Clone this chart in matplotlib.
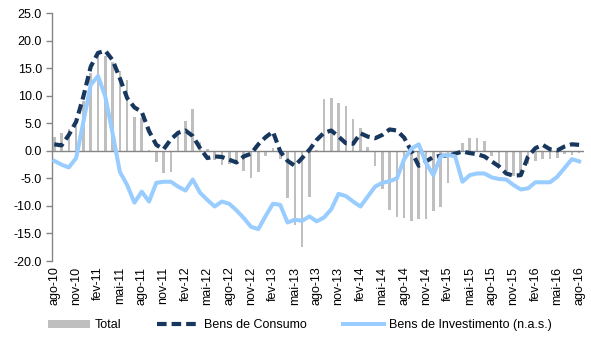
import matplotlib
matplotlib.use("Agg")
import matplotlib.pyplot as plt
from matplotlib.patches import Patch
from matplotlib.lines import Line2D

plt.rcParams['font.family'] = ['Liberation Sans', 'DejaVu Sans']

# Monthly series, ago-10 .. ago-16 (year-on-year % change)
total = [2.6, 3.2, 3.9, 4.5, 9.0, 14.2, 17.2, 17.2, 16.2, 14.5,
         12.9, 6.2, 5.9, 0.2, -2.1, -4.1, -3.9, 3.2, 5.5, 7.6,
         1.7, 0.3, -1.7, -2.6, -2.3, -2.2, -3.6, -5.0, -3.8, -0.9,
         0.5, -1.5, -8.6, -13.5, -17.5, -8.4, 0.2, 9.4, 9.6, 8.7,
         8.2, 5.8, 4.1, 0.7, -2.7, -7.0, -10.8, -12.0, -12.2, -12.7,
         -12.3, -12.4, -11.0, -10.1, -5.9, -0.8, 1.4, 2.3, 2.3, 1.8,
         -0.9, -2.8, -3.7, -4.5, -4.5, -2.4, -1.8, -1.5, -1.4, -1.2,
         -0.6, -0.7, -0.3]

consumo = [1.2, 1.0, 2.9, 5.3, 9.9, 15.3, 17.8, 18.2, 16.5, 13.2,
           9.6, 7.9, 7.1, 3.6, 1.1, 0.3, 2.1, 3.3, 3.7, 2.7,
           0.5, -1.3, -1.0, -1.1, -1.6, -2.1, -1.0, -0.5, 1.2, 2.5,
           3.5, -0.1, -1.8, -2.7, -1.3, 0.2, 2.0, 3.3, 3.7, 2.6,
           1.4, 1.3, 3.2, 2.6, 2.3, 2.9, 3.9, 3.7, 2.4, -0.1,
           -2.7, -1.9, -1.1, -0.9, -0.9, -0.5, -0.1, -0.4, -0.6, -1.0,
           -1.9, -2.8, -4.1, -4.5, -4.4, -1.0, 0.5, 1.1, 0.3, 0.1,
           0.8, 1.2, 1.1]

investimento = [-1.8, -2.5, -3.0, -1.3, 5.3, 12.0, 13.6, 9.9, 3.2, -3.8,
                -6.2, -9.4, -7.4, -9.2, -5.8, -5.6, -5.6, -6.5, -7.2, -5.2,
                -7.6, -8.9, -10.1, -9.2, -9.6, -10.8, -12.2, -13.8, -14.2, -11.8,
                -9.6, -9.8, -13.0, -12.5, -12.7, -11.9, -12.8, -12.1, -10.6, -7.8,
                -8.2, -9.2, -10.1, -8.3, -6.5, -5.8, -5.5, -5.0, -1.5, 0.4,
                1.2, -2.2, -4.4, -1.0, -0.7, -1.0, -5.6, -4.4, -4.1, -4.1,
                -4.8, -5.1, -5.2, -6.2, -7.0, -6.8, -5.7, -5.7, -5.7, -4.7,
                -3.1, -1.5, -1.9]

tick_labels = ['ago-10', 'nov-10', 'fev-11', 'mai-11', 'ago-11', 'nov-11',
               'fev-12', 'mai-12', 'ago-12', 'nov-12', 'fev-13', 'mai-13',
               'ago-13', 'nov-13', 'fev-14', 'mai-14', 'ago-14', 'nov-14',
               'fev-15', 'mai-15', 'ago-15', 'nov-15', 'fev-16', 'mai-16',
               'ago-16']

legend_labels = ['Total', 'Bens de Consumo', 'Bens de Investimento (n.a.s.)']

GRAY = '#BFBFBF'
NAVY = '#17375E'
LIGHT = '#99CCFF'
AXIS = '#868686'

fig = plt.figure(figsize=(5.91, 3.46), dpi=100)
ax = fig.add_axes([51.7 / 591, 85 / 346, (583.5 - 51.7) / 591, (261 - 13.3) / 346])

x = list(range(len(total)))
ax.bar(x, total, width=0.36, color=GRAY, zorder=1)
ax.axhline(0, color=AXIS, lw=1.0, zorder=2)
ax.plot(x, consumo, color=NAVY, lw=3.0, linestyle=(0, (2.3, 1.2)),
        dash_capstyle='butt', zorder=3)
ax.plot(x, investimento, color=LIGHT, lw=2.9, solid_joinstyle='round', zorder=3)

ax.set_xlim(-0.35, 72.6)
ax.set_ylim(-20, 25)
ax.set_yticks(range(-20, 30, 5))
ax.set_yticklabels([f"{v:.1f}" for v in range(-20, 30, 5)], fontsize=9)
ax.set_xticks(range(0, 3 * len(tick_labels), 3))
ax.set_xticklabels(tick_labels, rotation=90, fontsize=9)

for s in ['top', 'right', 'bottom']:
    ax.spines[s].set_visible(False)
ax.spines['left'].set_color(AXIS)
ax.spines['left'].set_linewidth(1.0)
ax.tick_params(axis='y', direction='out', length=4, color=AXIS, width=1.0, pad=3)
ax.tick_params(axis='x', length=0, pad=4)

handles = [Patch(facecolor=GRAY, edgecolor='none'),
           Line2D([], [], color=NAVY, lw=3.0, linestyle=(0, (2.3, 1.2))),
           Line2D([], [], color=LIGHT, lw=2.9)]
fig.legend(handles, legend_labels, loc='center', ncol=3, frameon=False,
           bbox_to_anchor=(300 / 591, 1 - 325 / 346), fontsize=9,
           handlelength=3.3, handletextpad=0.4, columnspacing=2.9,
           handleheight=0.6)

fig.savefig('out.png', dpi=100)
